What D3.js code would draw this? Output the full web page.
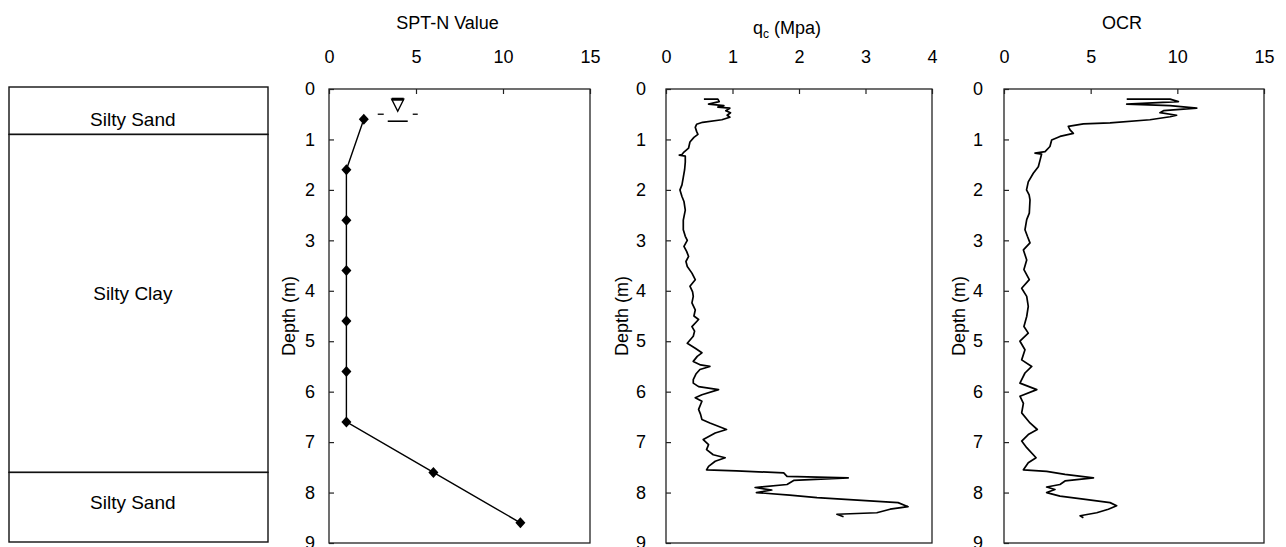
<!doctype html>
<html lang="en">

<head>
    <meta charset="UTF-8" />
    <script src="https://d3js.org/d3.v7.min.js"></script>
    <title>SPT / CPT profile</title>
    <style>
        body { margin: 0; background: white; }
        text { font-family: "Liberation Sans", Arial, sans-serif; fill: black; }
    </style>
</head>

<body>
    <div id="chart"></div>
    <script>
        // Soil layers (depth in m)
        const layerNames = ["Silty Sand", "Silty Clay", "Silty Sand"]
        const layerTop = [0, 0.9, 7.6]
        const layerBottom = [0.9, 7.6, 9]
        const layerLabelDepth = [0.6, 4.05, 8.2]

        // SPT-N
        const sptDepth = [0.6, 1.6, 2.6, 3.6, 4.6, 5.6, 6.6, 7.6, 8.6]
        const sptN = [2, 1, 1, 1, 1, 1, 1, 6, 11]
        const waterTableN = 3.95
        const waterTableDepth = 0.5

        // CPT tip resistance qc (MPa)
        const qcDepth = [0.20, 0.20, 0.25, 0.30, 0.33, 0.36, 0.38, 0.43, 0.47, 0.52, 0.56, 0.61, 0.66, 0.70, 0.76, 0.84, 0.90, 0.96,
            1.05, 1.17, 1.25, 1.30, 1.31, 1.33, 1.45, 1.60, 1.75, 1.90, 2.00, 2.13, 2.23, 2.40, 2.60, 2.79, 2.92, 3.00, 3.12, 3.22,
            3.32, 3.42, 3.52, 3.65, 3.78, 3.91, 4.02, 4.11, 4.24, 4.38, 4.50, 4.57, 4.71, 4.80, 4.90, 5.04, 5.14, 5.23, 5.30, 5.40,
            5.47, 5.50, 5.56, 5.65, 5.76, 5.83, 5.90, 5.96, 6.06, 6.12, 6.19, 6.35, 6.45, 6.55, 6.62, 6.75, 6.82, 6.95, 7.05, 7.15,
            7.25, 7.31, 7.38, 7.48, 7.55, 7.57, 7.61, 7.68, 7.71, 7.76, 7.84, 7.90, 7.95, 8.00, 8.05, 8.10, 8.20, 8.28, 8.33, 8.40,
            8.43, 8.48]
        const qcValue = [0.57, 0.78, 0.80, 0.64, 0.87, 0.78, 0.96, 0.90, 0.97, 0.92, 0.96, 0.84, 0.55, 0.46, 0.44, 0.46, 0.48, 0.42,
            0.36, 0.34, 0.27, 0.24, 0.20, 0.29, 0.29, 0.28, 0.26, 0.24, 0.21, 0.24, 0.27, 0.29, 0.26, 0.26, 0.29, 0.32, 0.27, 0.31,
            0.34, 0.30, 0.32, 0.39, 0.44, 0.36, 0.40, 0.41, 0.39, 0.44, 0.42, 0.49, 0.39, 0.43, 0.41, 0.32, 0.44, 0.54, 0.47, 0.41,
            0.52, 0.66, 0.51, 0.45, 0.41, 0.41, 0.49, 0.79, 0.54, 0.44, 0.54, 0.49, 0.52, 0.54, 0.66, 0.91, 0.74, 0.56, 0.64, 0.61,
            0.71, 0.89, 0.74, 0.64, 0.61, 1.06, 1.77, 1.82, 2.74, 1.92, 1.82, 1.34, 1.59, 1.36, 1.86, 2.27, 3.49, 3.64, 3.37, 3.17,
            2.57, 2.67]

        // Overconsolidation ratio
        const ocrDepth = [0.20, 0.20, 0.25, 0.30, 0.33, 0.38, 0.43, 0.47, 0.52, 0.55, 0.61, 0.67, 0.69, 0.74, 0.81, 0.88, 0.94, 1.01,
            1.14, 1.24, 1.27, 1.29, 1.41, 1.54, 1.67, 1.84, 2.00, 2.10, 2.20, 2.46, 2.59, 2.79, 2.92, 3.05, 3.19, 3.39, 3.58, 3.78,
            3.95, 4.11, 4.31, 4.51, 4.71, 4.84, 5.00, 5.17, 5.37, 5.50, 5.63, 5.83, 5.96, 6.09, 6.23, 6.42, 6.62, 6.75, 6.85, 6.98,
            7.11, 7.31, 7.41, 7.55, 7.58, 7.64, 7.71, 7.77, 7.84, 7.89, 7.94, 8.00, 8.07, 8.13, 8.20, 8.26, 8.33, 8.40, 8.46, 8.50]
        const ocrValue = [7.08, 9.58, 10.06, 7.08, 9.58, 11.12, 9.20, 9.00, 9.96, 9.58, 8.42, 6.12, 4.58, 3.71, 3.81, 4.00, 3.23, 2.75,
            2.65, 2.37, 1.79, 2.17, 2.08, 1.98, 1.69, 1.40, 1.30, 1.45, 1.50, 1.46, 1.31, 1.21, 1.35, 1.50, 1.12, 1.31, 1.15, 1.46,
            1.02, 1.31, 1.40, 1.31, 1.15, 1.40, 0.92, 1.21, 1.02, 1.60, 1.21, 0.92, 1.89, 0.92, 1.12, 1.02, 1.50, 1.92, 1.40, 1.02,
            1.31, 1.85, 1.40, 1.12, 2.46, 3.52, 5.16, 3.52, 3.23, 2.46, 2.94, 2.46, 3.23, 4.58, 6.12, 6.50, 6.02, 5.35, 4.39, 4.58]

        // Tick values
        const depthTicks = [0, 1, 2, 3, 4, 5, 6, 7, 8, 9]
        const sptTicks = [0, 5, 10, 15]
        const qcTicks = [0, 1, 2, 3, 4]
        const ocrTicks = [0, 5, 10, 15]

        const WIDTH = 1286
        const HEIGHT = 547
        const plotTop = 89
        const plotBottom = 543
        const FONT = 18

        const svg = d3.select("#chart")
            .append("svg")
            .attr("width", WIDTH)
            .attr("height", HEIGHT)

        const y = d3.scaleLinear().domain([0, 9]).range([plotTop, plotBottom])

        // Soil column
        const soil = svg.append("g")
        const soilX = d3.scaleLinear().domain([0, 1]).range([9, 268])
        soil.selectAll("rect.layer")
            .data(layerNames)
            .join("rect")
            .attr("class", "layer")
            .attr("x", soilX(0))
            .attr("width", soilX(1) - soilX(0))
            .attr("y", (d, i) => y(layerTop[i]) - (i === 0 ? 2 : 0))
            .attr("height", (d, i) => y(layerBottom[i]) - y(layerTop[i]) + (i === 0 ? 2 : 0) - (i === 2 ? 1 : 0))
            .attr("fill", "none")
            .attr("stroke", "#111")
            .attr("stroke-width", 1.4)
        soil.selectAll("text.layer")
            .data(layerNames)
            .join("text")
            .attr("class", "layer")
            .attr("x", soilX(0.478))
            .attr("y", (d, i) => y(layerLabelDepth[i]))
            .attr("dy", "0.35em")
            .attr("text-anchor", "middle")
            .style("font-size", "19px")
            .text(d => d)

        const panels = [
            { key: "spt", left: 329, right: 590, domain: [0, 15], ticks: sptTicks, labelPad: 14, depthPad: 34,
              title: "SPT-N Value", titleY: 29 },
            { key: "qc", left: 666, right: 932, domain: [0, 4], ticks: qcTicks, labelPad: 20, depthPad: 38,
              title: null, titleY: 34 },
            { key: "ocr", left: 1004, right: 1264, domain: [0, 15], ticks: ocrTicks, labelPad: 21, depthPad: 39,
              title: "OCR", titleY: 29 }
        ]

        const scales = {}

        panels.forEach(p => {
            const x = d3.scaleLinear().domain(p.domain).range([p.left, p.right])
            scales[p.key] = x
            const g = svg.append("g")

            // frame
            g.append("rect")
                .attr("x", p.left)
                .attr("y", plotTop)
                .attr("width", p.right - p.left)
                .attr("height", plotBottom - plotTop)
                .attr("fill", "none")
                .attr("stroke", "#222")
                .attr("stroke-width", 1.3)

            // top axis (ticks pointing inward)
            const top = g.append("g")
                .attr("transform", `translate(0,${plotTop})`)
                .call(d3.axisTop(x).tickValues(p.ticks).tickFormat(d3.format("d"))
                    .tickSizeInner(-5).tickSizeOuter(0).tickPadding(26))
            top.select(".domain").remove()
            top.selectAll("line").attr("stroke", "#222").attr("stroke-width", 1.2)
            top.selectAll("text").style("font-size", FONT + "px").attr("fill", "black")
                .style("font-family", "'Liberation Sans', Arial, sans-serif")

            // left depth axis
            const left = g.append("g")
                .attr("transform", `translate(${p.left},0)`)
                .call(d3.axisLeft(y).tickValues(depthTicks).tickFormat(d3.format("d"))
                    .tickSizeInner(-5).tickSizeOuter(0).tickPadding(p.labelPad))
            left.select(".domain").remove()
            left.selectAll("line").attr("stroke", "#222").attr("stroke-width", 1.2)
            left.selectAll("text").style("font-size", FONT + "px").attr("fill", "black")
                .style("font-family", "'Liberation Sans', Arial, sans-serif")

            // depth label
            g.append("text")
                .attr("transform", `translate(${p.left - p.depthPad},${(plotTop + plotBottom) / 2}) rotate(-90)`)
                .attr("text-anchor", "middle")
                .style("font-size", FONT + "px")
                .text("Depth (m)")

            // title
            const cx = (p.left + p.right) / 2 - 12
            if (p.title) {
                g.append("text")
                    .attr("x", cx)
                    .attr("y", p.titleY)
                    .attr("text-anchor", "middle")
                    .style("font-size", FONT + "px")
                    .text(p.title)
            } else {
                const t = g.append("text")
                    .attr("x", cx)
                    .attr("y", p.titleY)
                    .attr("text-anchor", "middle")
                    .style("font-size", FONT + "px")
                t.append("tspan").text("q")
                t.append("tspan").attr("dy", 4).style("font-size", "12px").text("c")
                t.append("tspan").attr("dy", -4).text(" (Mpa)")
            }
        })

        // SPT line + diamonds
        const spt = sptN.map((n, i) => ({ n, depth: sptDepth[i] }))
        const xs = scales.spt
        svg.append("path")
            .datum(spt)
            .attr("fill", "none")
            .attr("stroke", "black")
            .attr("stroke-width", 1.4)
            .attr("d", d3.line().x(d => xs(d.n)).y(d => y(d.depth)))
        svg.selectAll("path.diamond")
            .data(spt)
            .join("path")
            .attr("class", "diamond")
            .attr("transform", d => `translate(${xs(d.n)},${y(d.depth)})`)
            .attr("d", "M0,-5.5L5,0L0,5.5L-5,0Z")
            .attr("fill", "black")

        // water table symbol
        const wt = svg.append("g")
            .attr("transform", `translate(${xs(waterTableN)},${y(waterTableDepth)})`)
            .attr("stroke", "black")
        wt.append("path").attr("d", "M-6,-15L6,-15L0,-3Z").attr("fill", "white").attr("stroke-width", 1.4)
        wt.append("line").attr("x1", -6).attr("x2", 6).attr("y1", -15).attr("y2", -15).attr("stroke-width", 3)
        wt.append("line").attr("x1", -20).attr("x2", -14).attr("y1", 0).attr("y2", 0).attr("stroke-width", 1.3)
        wt.append("line").attr("x1", 15).attr("x2", 20).attr("y1", 0).attr("y2", 0).attr("stroke-width", 1.3)
        wt.append("line").attr("x1", -10).attr("x2", 10).attr("y1", 7).attr("y2", 7).attr("stroke-width", 1.6)

        // qc and OCR traces
        const trace = (key, depths, values) => {
            const x = scales[key]
            const pts = values.map((v, i) => ({ v, depth: depths[i] }))
            svg.append("path")
                .datum(pts)
                .attr("fill", "none")
                .attr("stroke", "black")
                .attr("stroke-width", 1.7)
                .attr("stroke-linejoin", "round")
                .attr("d", d3.line().x(d => x(d.v)).y(d => y(d.depth)))
        }
        trace("qc", qcDepth, qcValue)
        trace("ocr", ocrDepth, ocrValue)
    </script>
</body>

</html>
